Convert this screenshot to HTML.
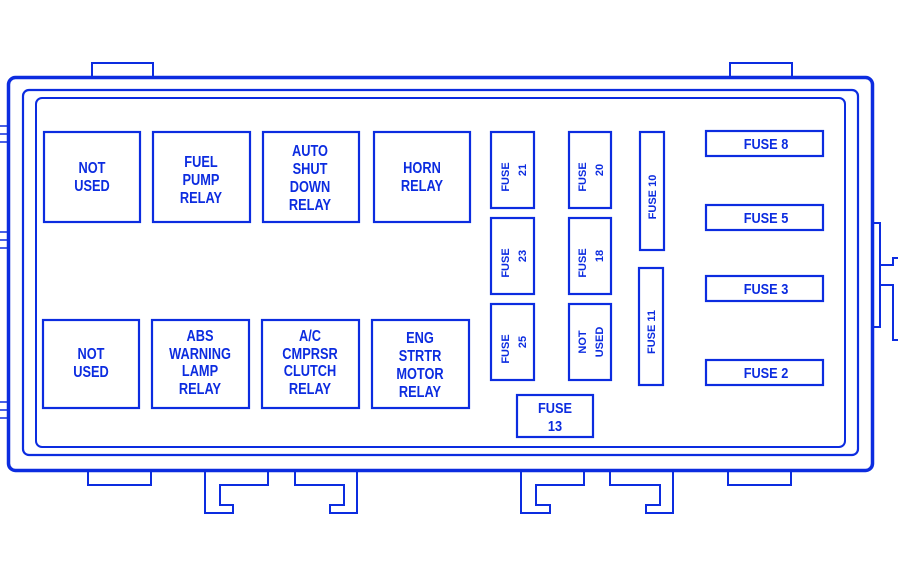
<!DOCTYPE html>
<html><head><meta charset="utf-8"><style>
html,body{margin:0;padding:0;background:#fff;}
svg{display:block}
text{font-family:"Liberation Sans",sans-serif;font-size:16px;fill:#0c2ce0;text-anchor:middle;font-weight:bold;}
.s{font-size:15px}
.v{font-size:11px;font-weight:bold}
</style></head><body>
<svg width="898" height="576" viewBox="0 0 898 576" xmlns="http://www.w3.org/2000/svg">
<g fill="none" stroke="#0c2ce0">
<rect x="8.5" y="77.5" width="864" height="393" rx="7" stroke-width="3.5"/>
<rect x="23" y="90" width="835" height="365" rx="6" stroke-width="2.2"/>
<rect x="36" y="98" width="809" height="349" rx="6" stroke-width="2"/>
<path d="M92 77V63H153V77M730 77V63H792V77" stroke-width="2"/>
<path d="M0 126H8M0 134H8M0 142H8M0 232H8M0 240H8M0 248H8M0 402H8M0 410H8M0 418H8" stroke-width="1.5"/>
<path d="M88 471V485H151V471M728 471V485H791V471" stroke-width="2"/>
<path d="M205 471V513H233V505H220V485H268V471" stroke-width="2"/>
<path d="M295 471V485H344V505H330V513H357V471" stroke-width="2"/>
<path d="M521 471V513H550V505H536V485H584V471" stroke-width="2"/>
<path d="M610 471V485H660V505H646V513H673V471" stroke-width="2"/>
<path d="M873 223H880V327H873" stroke-width="2"/>
<path d="M880 265H893V258H898M880 285H893V340H898" stroke-width="2"/>
<g stroke-width="2.2">
<rect x="44" y="132" width="96" height="90"/>
<rect x="153" y="132" width="97" height="90"/>
<rect x="263" y="132" width="96" height="90"/>
<rect x="374" y="132" width="96" height="90"/>
<rect x="43" y="320" width="96" height="88"/>
<rect x="152" y="320" width="97" height="88"/>
<rect x="262" y="320" width="97" height="88"/>
<rect x="372" y="320" width="97" height="88"/>
<rect x="491" y="132" width="43" height="76"/>
<rect x="491" y="218" width="43" height="76"/>
<rect x="491" y="304" width="43" height="76"/>
<rect x="569" y="132" width="42" height="76"/>
<rect x="569" y="218" width="42" height="76"/>
<rect x="569" y="304" width="42" height="76"/>
<rect x="640" y="132" width="24" height="118"/>
<rect x="639" y="268" width="24" height="117"/>
<rect x="517" y="395" width="76" height="42"/>
<rect x="706" y="131" width="117" height="25"/>
<rect x="706" y="205" width="117" height="25"/>
<rect x="706" y="276" width="117" height="25"/>
<rect x="706" y="360" width="117" height="25"/>
</g>
</g>
<g transform="translate(92,0)"><text transform="scale(.8,1)" y="173">NOT</text><text transform="scale(.8,1)" y="191">USED</text></g>
<g transform="translate(201,0)"><text transform="scale(.8,1)" y="167">FUEL</text><text transform="scale(.8,1)" y="185">PUMP</text><text transform="scale(.8,1)" y="203">RELAY</text></g>
<g transform="translate(310,0)"><text transform="scale(.8,1)" y="156">AUTO</text><text transform="scale(.8,1)" y="174">SHUT</text><text transform="scale(.8,1)" y="192">DOWN</text><text transform="scale(.8,1)" y="210">RELAY</text></g>
<g transform="translate(422,0)"><text transform="scale(.8,1)" y="173">HORN</text><text transform="scale(.8,1)" y="191">RELAY</text></g>
<g transform="translate(91,0)"><text transform="scale(.8,1)" y="359">NOT</text><text transform="scale(.8,1)" y="377">USED</text></g>
<g transform="translate(200,0)"><text transform="scale(.8,1)" y="341">ABS</text><text transform="scale(.8,1)" y="359">WARNING</text><text transform="scale(.8,1)" y="376">LAMP</text><text transform="scale(.8,1)" y="394">RELAY</text></g>
<g transform="translate(310,0)"><text transform="scale(.8,1)" y="341">A/C</text><text transform="scale(.8,1)" y="359">CMPRSR</text><text transform="scale(.8,1)" y="376">CLUTCH</text><text transform="scale(.8,1)" y="394">RELAY</text></g>
<g transform="translate(420,0)"><text transform="scale(.8,1)" y="343">ENG</text><text transform="scale(.8,1)" y="361">STRTR</text><text transform="scale(.8,1)" y="379">MOTOR</text><text transform="scale(.8,1)" y="397">RELAY</text></g>
<text class="v" transform="translate(509,177) rotate(-90)">FUSE</text><text class="v" transform="translate(526,170) rotate(-90)">21</text>
<text class="v" transform="translate(509,263) rotate(-90)">FUSE</text><text class="v" transform="translate(526,256) rotate(-90)">23</text>
<text class="v" transform="translate(509,349) rotate(-90)">FUSE</text><text class="v" transform="translate(526,342) rotate(-90)">25</text>
<text class="v" transform="translate(586,177) rotate(-90)">FUSE</text><text class="v" transform="translate(603,170) rotate(-90)">20</text>
<text class="v" transform="translate(586,263) rotate(-90)">FUSE</text><text class="v" transform="translate(603,256) rotate(-90)">18</text>
<text class="v" transform="translate(586,342) rotate(-90)">NOT</text><text class="v" transform="translate(603,342) rotate(-90)">USED</text>
<text class="v" transform="translate(656,197) rotate(-90)">FUSE 10</text>
<text class="v" transform="translate(655,332) rotate(-90)">FUSE 11</text>
<g transform="translate(555,0)"><text transform="scale(.85,1)" class="s" y="413">FUSE</text><text transform="scale(.85,1)" class="s" y="431">13</text></g>
<g transform="translate(766,0)">
<text transform="scale(.85,1)" class="s" y="149">FUSE 8</text>
<text transform="scale(.85,1)" class="s" y="223">FUSE 5</text>
<text transform="scale(.85,1)" class="s" y="294">FUSE 3</text>
<text transform="scale(.85,1)" class="s" y="378">FUSE 2</text>
</g>
</svg>
</body></html>
